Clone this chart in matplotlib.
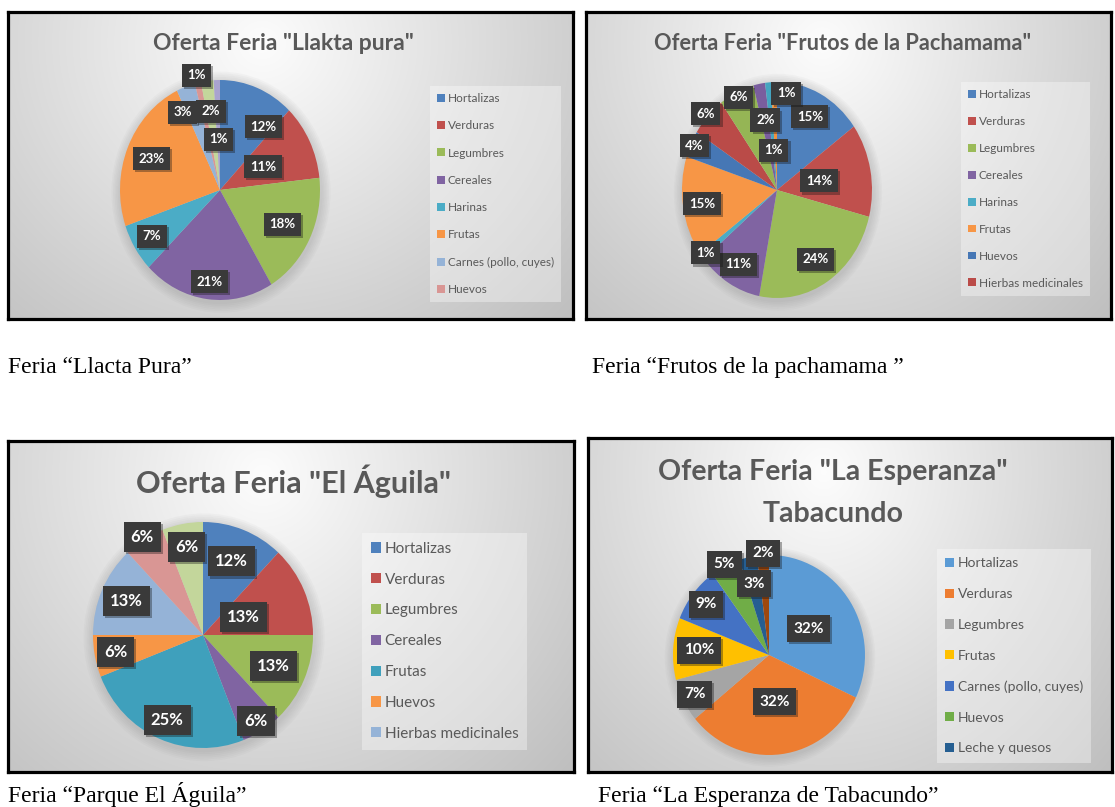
import matplotlib.pyplot as plt
import matplotlib.patheffects as pe
from matplotlib.patches import Ellipse
import numpy as np

W, H = 1115, 807

# ---- datos (porcentajes) ----
cats_llakta = ['Hortalizas', 'Verduras', 'Legumbres', 'Cereales', 'Harinas',
               'Frutas', 'Carnes (pollo, cuyes)', 'Huevos']
vals_llakta = [12, 11, 18, 21, 7, 23, 3, 1, 2, 1]

cats_frutos = ['Hortalizas', 'Verduras', 'Legumbres', 'Cereales', 'Harinas',
               'Frutas', 'Huevos', 'Hierbas medicinales']
vals_frutos = [15, 14, 24, 11, 1, 15, 4, 6, 6, 2, 1, 1]

cats_aguila = ['Hortalizas', 'Verduras', 'Legumbres', 'Cereales', 'Frutas',
               'Huevos', 'Hierbas medicinales']
vals_aguila = [12, 13, 13, 6, 25, 6, 13, 6, 6]

cats_esperanza = ['Hortalizas', 'Verduras', 'Legumbres', 'Frutas',
                  'Carnes (pollo, cuyes)', 'Huevos', 'Leche y quesos']
vals_esperanza = [32, 32, 7, 10, 9, 5, 3, 2]

# ---- estilos ----
office2010 = ['#4F81BD', '#C0504D', '#9BBB59', '#8064A2', '#4BACC6', '#F79646']
colors_llakta = office2010 + ['#95B3D7', '#D99694', '#C3D69B', '#A9A3CF']
colors_frutos = office2010 + ['#4677B5', '#BA4B48', '#95B555', '#7A5E9E', '#45A5C0', '#F0903E']
colors_aguila = office2010[:4] + ['#3FA0BC', '#F79646', '#95B3D7', '#D99694', '#C3D69B']
colors_esperanza = ['#5B9BD5', '#ED7D31', '#A5A5A5', '#FFC000', '#4472C4',
                    '#70AD47', '#255E91', '#9E480E']

# distancia radial de cada etiqueta (fraccion del radio) y giro extra en grados
r_llakta = [0.72, 0.48, 0.7, 0.84, 0.8, 0.74, 0.8, 1.07, 0.72, 0.46]
nudge_llakta = {0: -15, 6: 8}
r_frutos = [0.76, 0.45, 0.76, 0.8, 0.95, 0.8, 0.96, 1.03, 0.95, 0.66, 0.37, 0.9]
nudge_frutos = {11: -8}
r_aguila = [0.7, 0.4, 0.7, 0.9, 0.82, 0.81, 0.76, 1.03, 0.79]
r_esperanza = [0.49, 0.47, 0.87, 0.73, 0.83, 1.02, 0.73, 1.02]

TITLE_FONT = 'Lato'
GREY = '#595959'

fig = plt.figure(figsize=(W / 100, H / 100), dpi=100)


def px_rect(x0, y0, x1, y1):
    return [x0 / W, 1 - y1 / H, (x1 - x0) / W, (y1 - y0) / H]


def background(x0, y0, x1, y1):
    ax = fig.add_axes(px_rect(x0, y0, x1, y1))
    xx, yy = np.meshgrid(np.linspace(0, 1, 300), np.linspace(0, 1, 200))
    d = np.sqrt(((xx - 0.45) / 0.75) ** 2 + ((yy - 0.1) / 1.3) ** 2)
    g = np.clip(0.99 - 0.24 * d, 0, 1)
    ax.imshow(np.dstack([g, g, g]), extent=(0, 1, 0, 1), aspect='auto',
              origin='upper', interpolation='bilinear')
    ax.set_xticks([])
    ax.set_yticks([])
    for s in ax.spines.values():
        s.set_linewidth(2.3)
        s.set_color('black')
    return ax


def pie_chart(cx, cy, rx, ry, vals, colors, radii, fs, nudge=None):
    nudge = nudge or {}
    ax = fig.add_axes(px_rect(cx - rx, cy - ry, cx + rx, cy + ry))
    # sombra suave alrededor del pastel
    for k in range(6):
        s = 1.0 + 0.016 * (k + 1)
        ax.add_patch(Ellipse((0.01, -0.02), 2 * s, 2 * s, fc='#7a7a7a',
                             ec='none', alpha=0.045, clip_on=False, zorder=0))
    wedges, _ = ax.pie(vals, colors=colors, startangle=90, counterclock=False,
                       radius=1, wedgeprops=dict(linewidth=0, zorder=1))
    ax.set_aspect('auto')
    ax.set_xlim(-1, 1)
    ax.set_ylim(-1, 1)
    for i, (w, v, r) in enumerate(zip(wedges, vals, radii)):
        a = np.deg2rad((w.theta1 + w.theta2) / 2 + nudge.get(i, 0))
        t = ax.text(r * np.cos(a), r * np.sin(a), f'{v}%', ha='center', va='center',
                    color='white', fontsize=fs, fontweight='bold', family=TITLE_FONT,
                    zorder=3,
                    bbox=dict(boxstyle='square,pad=0.42', fc='#3a3a3a', ec='none'))
        t.get_bbox_patch().set_path_effects(
            [pe.SimplePatchShadow(offset=(1.5, -1.5), alpha=0.35), pe.Normal()])
    return wedges


def legend(wedges, cats, x, y, fs, spacing):
    fig.legend(wedges[:len(cats)], cats, loc='upper left',
               bbox_to_anchor=(x / W, 1 - y / H),
               prop=dict(family=TITLE_FONT, size=fs),
               frameon=True, facecolor='white', framealpha=0.35,
               edgecolor='none', fancybox=False, handlelength=0.65,
               handleheight=0.65, handletextpad=0.25, labelspacing=spacing,
               borderpad=0.6, labelcolor=GREY)


def title(x, y, txt, fs):
    fig.text(x / W, 1 - y / H, txt, ha='center', va='center', fontsize=fs,
             fontweight='bold', family=TITLE_FONT, color=GREY)


def caption(x, y, txt):
    fig.text(x / W, 1 - y / H, txt, ha='left', va='baseline', fontsize=17,
             family='Liberation Serif', color='black')


# ---- Llakta pura ----
background(8, 12, 573, 319)
title(283, 44, 'Oferta Feria "Llakta pura"', 16.5)
w = pie_chart(220, 190, 100, 110, vals_llakta, colors_llakta, r_llakta, 9.5,
              nudge_llakta)
legend(w, cats_llakta, 424, 80, 8.5, 1.38)
caption(8, 373, 'Feria “Llacta Pura”')

# ---- Frutos de la Pachamama ----
background(586, 12, 1111, 319)
title(843, 44, 'Oferta Feria "Frutos de la Pachamama"', 15.7)
w = pie_chart(777, 190, 95, 108, vals_frutos, colors_frutos, r_frutos, 9.5,
              nudge_frutos)
legend(w, cats_frutos, 955, 76, 8.5, 1.35)
caption(592, 373, 'Feria “Frutos de la pachamama ”')

# ---- El Aguila ----
background(8, 441, 574, 772)
title(293, 481, 'Oferta Feria "El Águila"', 22)
w = pie_chart(203, 635, 110, 113, vals_aguila, colors_aguila, r_aguila, 12)
legend(w, cats_aguila, 354, 525, 11, 1.1)
caption(8, 802, 'Feria “Parque El Águila”')

# ---- La Esperanza ----
background(588, 438, 1112, 772)
title(833, 472, 'Oferta Feria "La Esperanza"', 20.5)
title(833, 514, 'Tabacundo', 20.5)
w = pie_chart(769, 655, 96, 100, vals_esperanza, colors_esperanza, r_esperanza, 11)
legend(w, cats_esperanza, 930, 542, 10, 1.35)
caption(598, 802, 'Feria “La Esperanza de Tabacundo”')

fig.savefig('out.png', dpi=100)
